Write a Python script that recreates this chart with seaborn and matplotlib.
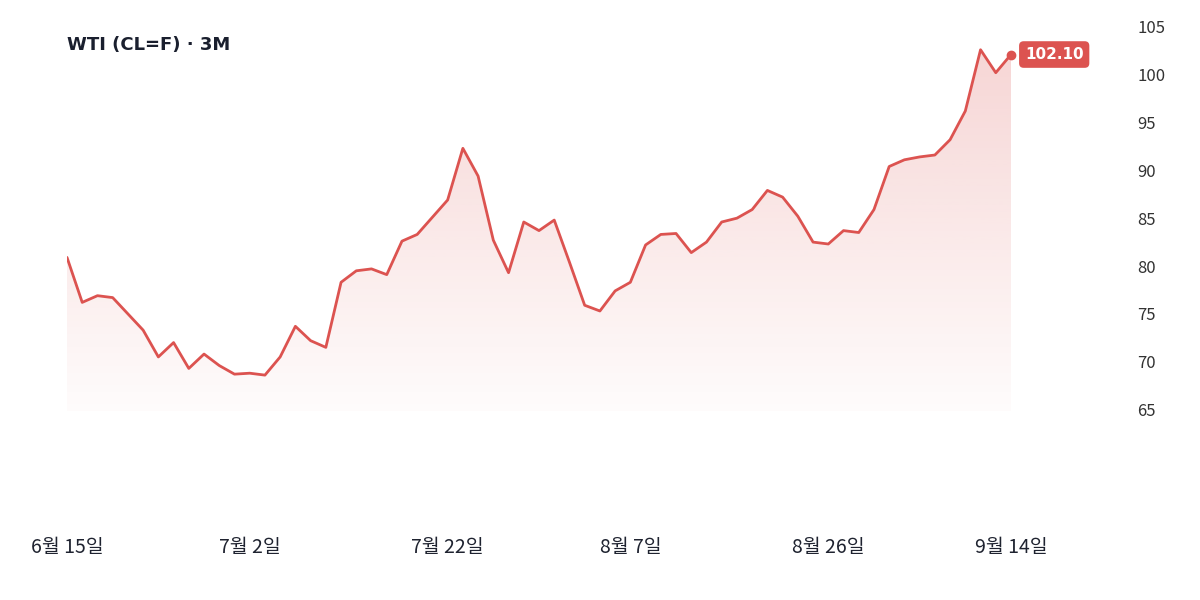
import numpy as np
import pandas as pd
import seaborn as sns
import matplotlib.pyplot as plt
from matplotlib.patches import Polygon

sns.set_style("white")
plt.rcParams['font.family'] = ['Noto Sans CJK KR', 'DejaVu Sans']

#%% Data
prices = [80.9, 76.2, 76.9, 76.7, 75.0, 73.3, 70.5, 72.0, 69.3, 70.8,
          69.6, 68.7, 68.8, 68.6, 70.5, 73.7, 72.2, 71.5, 78.3, 79.5,
          79.7, 79.1, 82.6, 83.3, 85.1, 86.9, 92.3, 89.4, 82.7, 79.3,
          84.6, 83.7, 84.8, 80.4, 75.9, 75.3, 77.4, 78.3, 82.2, 83.3,
          83.4, 81.4, 82.5, 84.6, 85.0, 85.9, 87.9, 87.2, 85.2, 82.5,
          82.3, 83.7, 83.5, 85.9, 90.4, 91.1, 91.4, 91.6, 93.2, 96.2,
          102.6, 100.2, 102.1]
tick_idx = [0, 12, 25, 37, 50, 62]
tick_labels = ["6월 15일", "7월 2일", "7월 22일", "8월 7일", "8월 26일", "9월 14일"]
y_ticks = [65, 70, 75, 80, 85, 90, 95, 100, 105]
title = "WTI (CL=F) · 3M"
last_label = "102.10"

df = pd.DataFrame({"day": np.arange(len(prices)), "price": prices})

red = "#dc5350"
base = 64.8

#%% Plot
fig = plt.figure(figsize=(12, 6), dpi=100)
ax = fig.add_axes([67 / 1200, 104.3 / 600, 944 / 1200, 478.5 / 600])

# gradient fill under the line
grad = np.zeros((256, 1, 4))
grad[:, 0, :3] = plt.matplotlib.colors.to_rgb(red)
grad[:, 0, 3] = np.linspace(0.24, 0.02, 256)
top = max(prices)
img = ax.imshow(grad, aspect="auto", extent=(0, len(prices) - 1, base, top),
                origin="upper", zorder=1)
verts = [(0, base)] + list(zip(df["day"], df["price"])) + [(len(prices) - 1, base)]
clip = Polygon(verts, closed=True, transform=ax.transData, facecolor="none", edgecolor="none")
ax.add_patch(clip)
img.set_clip_path(clip)

sns.lineplot(data=df, x="day", y="price", color=red, lw=2, ax=ax, zorder=3)
ax.plot(df["day"].iloc[-1], df["price"].iloc[-1], "o", color=red, ms=6,
        zorder=4, clip_on=False)

ax.annotate(last_label, xy=(df["day"].iloc[-1], df["price"].iloc[-1]),
            xytext=(10, 0), textcoords="offset points", ha="left", va="center",
            color="white", fontsize=11, fontweight="bold", family=["DejaVu Sans"],
            bbox=dict(boxstyle="round,pad=0.38,rounding_size=0.3", fc=red, ec="none"),
            zorder=5, annotation_clip=False)

ax.set_xlim(0, len(prices) - 1)
ax.set_ylim(56, 106)
ax.set_xticks(tick_idx)
ax.set_xticklabels(tick_labels, fontsize=14, color="#1f2330")
ax.set_yticks(y_ticks)
ax.set_yticklabels([str(v) for v in y_ticks], fontsize=12, color="#333333")
ax.yaxis.tick_right()
ax.tick_params(axis="y", length=0, pad=91)
ax.tick_params(axis="x", length=0, pad=30)
ax.set(xlabel=None, ylabel=None)
for s in ax.spines.values():
    s.set_visible(False)

fig.text(67 / 1200, 1 - 45 / 600, title, fontsize=13, fontweight="bold",
         color="#1a1f2e", ha="left", va="center", family=["DejaVu Sans"])

fig.savefig("out.png", dpi=100)
